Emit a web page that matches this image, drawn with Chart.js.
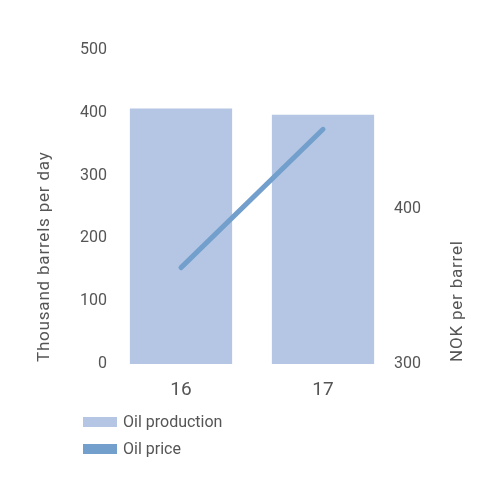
<!DOCTYPE html>
<html>
<head>
<meta charset="utf-8">
<script src="https://cdn.jsdelivr.net/npm/chart.js@4"></script>
<style>
  html, body { margin: 0; padding: 0; background: #fff; }
  #wrap { position: relative; width: 500px; height: 500px; }
  #legend { position: absolute; left: 83px; top: 408px; font-family: Roboto, sans-serif; font-size: 16px; color: #555; }
  .item { display: flex; align-items: center; height: 27px; }
  .box { width: 34px; height: 10px; margin-right: 6px; }
</style>
</head>
<body>
<div id="wrap">
  <canvas id="c" width="500" height="500"></canvas>
  <div id="legend"></div>
</div>
<script>
const categories = ['16', '17'];
const productionValues = [407, 397];
const priceValues = [362, 451];
const leftTicks = [0, 100, 200, 300, 400, 500];
const rightTicks = [300, 400];
const leftTitle = 'Thousand barrels per day';
const rightTitle = 'NOK per barrel';

const textColor = '#555555';
const fontFamily = 'Roboto, sans-serif';

// Axis titles drawn reading bottom-to-top on both sides, anchored at the bottom of the plot
const axisTitles = {
  id: 'axisTitles',
  afterDraw(chart) {
    const ctx = chart.ctx;
    const area = chart.chartArea;
    const items = [
      { text: leftTitle, x: chart.scales.y.left + 45 },
      { text: rightTitle, x: chart.scales.y1.right - 42.5 }
    ];
    ctx.save();
    ctx.fillStyle = textColor;
    ctx.font = '17px ' + fontFamily;
    if ('letterSpacing' in ctx) ctx.letterSpacing = '0.8px';
    ctx.textAlign = 'left';
    ctx.textBaseline = 'middle';
    items.forEach(it => {
      ctx.save();
      ctx.translate(it.x, area.bottom - 2);
      ctx.rotate(-Math.PI / 2);
      ctx.fillText(it.text, 0, 0);
      ctx.restore();
    });
    ctx.restore();
  }
};

const chart = new Chart(document.getElementById('c'), {
  type: 'bar',
  data: {
    labels: categories,
    datasets: [
      {
        label: 'Oil price',
        type: 'line',
        data: priceValues,
        yAxisID: 'y1',
        borderColor: '#739fcc',
        backgroundColor: '#739fcc',
        borderWidth: 5,
        pointRadius: 0,
        borderCapStyle: 'round',
        order: 1
      },
      {
        label: 'Oil production',
        data: productionValues,
        yAxisID: 'y',
        backgroundColor: '#b4c6e4',
        categoryPercentage: 1,
        barPercentage: 0.72,
        order: 2
      }
    ]
  },
  plugins: [axisTitles],
  options: {
    responsive: false,
    animation: false,
    layout: { padding: { top: 50, bottom: 96, left: 0, right: 0 } },
    plugins: { legend: { display: false }, tooltip: { enabled: false } },
    scales: {
      x: {
        grid: { display: false, drawTicks: false, tickLength: 0 }, border: { display: false },
        ticks: { color: textColor, font: { family: fontFamily, size: 19 }, padding: 15 },
        afterFit: s => { s.height = 40; }
      },
      y: {
        position: 'left', min: 0, max: 500,
        afterBuildTicks: s => { s.ticks = leftTicks.map(v => ({ value: v })); },
        grid: { display: false, drawTicks: false, tickLength: 0 }, border: { display: false },
        ticks: { color: textColor, font: { family: fontFamily, size: 16 }, padding: 3 },
        afterFit: s => { s.width = 110; }
      },
      y1: {
        position: 'right', min: 300, max: 502,
        afterBuildTicks: s => { s.ticks = rightTicks.map(v => ({ value: v })); },
        grid: { display: false, drawTicks: false, tickLength: 0 }, border: { display: false },
        ticks: { color: textColor, font: { family: fontFamily, size: 16 }, padding: 0 },
        afterFit: s => { s.width = 106; }
      }
    }
  }
});

const legendEl = document.getElementById('legend');
[chart.data.datasets[1], chart.data.datasets[0]].forEach(ds => {
  const item = document.createElement('div');
  item.className = 'item';
  const box = document.createElement('span');
  box.className = 'box';
  box.style.background = ds.backgroundColor;
  const txt = document.createElement('span');
  txt.textContent = ds.label;
  item.appendChild(box);
  item.appendChild(txt);
  legendEl.appendChild(item);
});
</script>
</body>
</html>
